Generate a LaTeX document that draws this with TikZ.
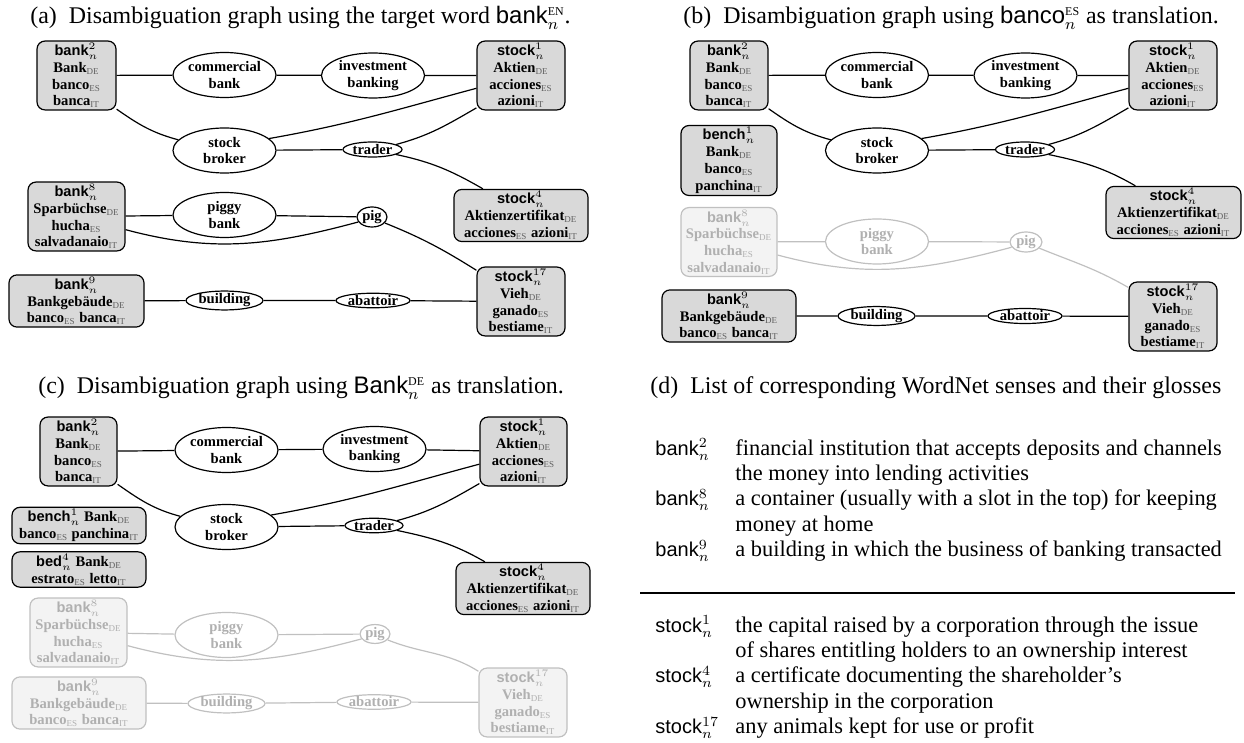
\documentclass[tikz,border=0pt]{standalone}
\usepackage{fontspec}
\setmainfont{Liberation Serif}
\setsansfont{Liberation Sans}
\usetikzlibrary{shapes.geometric,positioning}
\definecolor{boxgray}{RGB}{217,217,217}
\definecolor{palefill}{RGB}{243,243,243}
\definecolor{paleline}{RGB}{192,192,192}
\definecolor{paletext}{RGB}{176,176,176}
\definecolor{tagtext}{RGB}{95,95,95}
\colorlet{tagcol}{tagtext}
\newcommand{\wsense}[2]{\textsf{\textbf{#1}}$^{#2}_{n}$}
\newcommand{\glosense}[2]{\smash{\fontsize{10}{12}\selectfont\textsf{#1}$^{#2}_{n}$}}
\newcommand{\lang}[1]{\textsubscript{\normalfont\fontsize{4.5}{4.5}\selectfont\color{tagcol}#1}}
\tikzset{
  sense/.style={draw, fill=boxgray, rounded corners=4pt, line width=0.6pt, align=center,
    inner xsep=2pt, inner ysep=1pt, font=\fontsize{7.3}{8.4}\selectfont\bfseries},
  hub/.style={ellipse, draw, fill=white, line width=0.6pt, inner sep=0pt, align=center,
    font=\fontsize{7.3}{8.2}\selectfont\bfseries},
  pair/.style={hub, minimum width=51.5pt, minimum height=22.5pt},
  faded/.style={draw=paleline, text=paletext, execute at begin node=\colorlet{tagcol}{paletext}},
  fadedbox/.style={faded, fill=palefill},
  wire/.style={line width=0.6pt},
  palewire/.style={wire, draw=paleline},
  subcap/.style={anchor=base west, inner sep=0pt, font=\fontsize{11.95}{14}\selectfont},
  gloss/.style={anchor=north west, inner sep=0pt, font=\fontsize{11.2}{12.65}\selectfont},
}

\begin{document}
\begin{tikzpicture}[x=0.5pt, y=-0.5pt]
\useasboundingbox (0,0) rectangle (1244,743);

% (a) target word
\node[subcap] (a-cap) at (30,24) {(a)\hspace{6pt}Disambiguation graph using the target word \textsf{bank}$^{\scriptscriptstyle\mathrm{EN}}_n$.};
\node[sense, minimum width=39.5pt] (a-bank2) at (76.5,75.5) {\wsense{bank}{2}\\Bank\lang{DE}\\banco\lang{ES}\\banca\lang{IT}};
\node[pair] (a-commercial) at (224.5,75) {commercial\\bank};
\node[pair] (a-invest) at (373,75.5) {investment\\banking};
\node[sense, minimum width=44pt] (a-stock1) at (521,75.5) {\wsense{stock}{1}\\Aktien\lang{DE}\\acciones\lang{ES}\\azioni\lang{IT}};
\node[pair] (a-broker) at (224.5,150.5) {stock\\broker};
\node[hub, minimum width=29.5pt, minimum height=7.5pt] (a-trader) at (372.5,149.5) {trader};
\node[sense, minimum width=67pt] (a-stock4) at (521,215.5) {\wsense{stock}{4}\\Aktienzertifikat\lang{DE}\\acciones\lang{ES}\ azioni\lang{IT}};
\node[sense, minimum width=48.5pt] (a-bank8) at (76.5,216.5) {\wsense{bank}{8}\\Sparbüchse\lang{DE}\\hucha\lang{ES}\\salvadanaio\lang{IT}};
\node[pair] (a-piggy) at (224.5,215) {piggy\\bank};
\node[hub, minimum width=15pt, minimum height=10pt] (a-pig) at (372,217) {pig};
\node[sense, minimum width=67.5pt] (a-bank9) at (76.5,301) {\wsense{bank}{9}\\Bankgebäude\lang{DE}\\banco\lang{ES}\ banca\lang{IT}};
\node[hub, minimum width=38.5pt, minimum height=8pt] (a-building) at (224.5,300.5) {building};
\node[hub, minimum width=37pt, minimum height=7pt] (a-abattoir) at (373,300.5) {abattoir};
\node[sense, minimum width=44pt] (a-stock17) at (521,301.5) {\wsense{stock}{17}\\Vieh\lang{DE}\\ganado\lang{ES}\\bestiame\lang{IT}};
\draw[wire] (a-bank2) -- (a-commercial) -- (a-invest) -- (a-stock1);
\draw[wire] (a-bank2.-40) to[out=-35,in=165] (a-broker.167);
\draw[wire] (a-broker.15) to[out=10,in=195] (a-stock1.196);
\draw[wire] (a-broker) -- (a-trader);
\draw[wire] (a-trader.12) to[out=15,in=210] (a-stock1.216);
\draw[wire] (a-trader.-12) to[out=-12,in=150] (a-stock4.145);
\draw[wire] (a-bank8) -- (a-piggy) -- (a-pig);
\draw[wire] (a-bank8.-15) to[out=-15,in=195] (a-pig.200);
\draw[wire] (a-pig.-25) to[out=-22,in=148] (a-stock17.145);
\draw[wire] (a-bank9) -- (a-building) -- (a-abattoir) -- (a-stock17);

% (b) spanish translation
\node[subcap] (b-cap) at (683,24) {(b)\hspace{6pt}Disambiguation graph using \textsf{banco}$^{\scriptscriptstyle\mathrm{ES}}_n$ as translation.};
\node[sense, minimum width=39pt] (b-bank2) at (729,75.5) {\wsense{bank}{2}\\Bank\lang{DE}\\banco\lang{ES}\\banca\lang{IT}};
\node[pair] (b-commercial) at (877,75) {commercial\\bank};
\node[pair] (b-invest) at (1025.5,75.5) {investment\\banking};
\node[sense, minimum width=44pt] (b-stock1) at (1173,75.5) {\wsense{stock}{1}\\Aktien\lang{DE}\\acciones\lang{ES}\\azioni\lang{IT}};
\node[sense, minimum width=48pt] (b-bench1) at (729,160.5) {\wsense{bench}{1}\\Bank\lang{DE}\\banco\lang{ES}\\panchina\lang{IT}};
\node[pair] (b-broker) at (877,150.5) {stock\\broker};
\node[hub, minimum width=29.5pt, minimum height=7.5pt] (b-trader) at (1025,149.5) {trader};
\node[sense, minimum width=67.5pt] (b-stock4) at (1173.5,212.5) {\wsense{stock}{4}\\Aktienzertifikat\lang{DE}\\acciones\lang{ES}\ azioni\lang{IT}};
\node[sense, fadedbox, minimum width=48pt] (b-bank8) at (729,242) {\wsense{bank}{8}\\Sparbüchse\lang{DE}\\hucha\lang{ES}\\salvadanaio\lang{IT}};
\node[pair, faded] (b-piggy) at (877,241.5) {piggy\\bank};
\node[hub, faded, minimum width=16pt, minimum height=10pt] (b-pig) at (1026,242) {pig};
\node[sense, minimum width=67pt] (b-bank9) at (729,316) {\wsense{bank}{9}\\Bankgebäude\lang{DE}\\banco\lang{ES}\ banca\lang{IT}};
\node[hub, minimum width=38.5pt, minimum height=8pt] (b-building) at (876.5,316) {building};
\node[hub, minimum width=37pt, minimum height=7.5pt] (b-abattoir) at (1025,316) {abattoir};
\node[sense, minimum width=44pt] (b-stock17) at (1173,316.5) {\wsense{stock}{17}\\Vieh\lang{DE}\\ganado\lang{ES}\\bestiame\lang{IT}};
\draw[wire] (b-bank2) -- (b-commercial) -- (b-invest) -- (b-stock1);
\draw[wire] (b-bank2.-40) to[out=-35,in=165] (b-broker.167);
\draw[wire] (b-broker.15) to[out=10,in=195] (b-stock1.196);
\draw[wire] (b-broker) -- (b-trader);
\draw[wire] (b-trader.12) to[out=15,in=210] (b-stock1.216);
\draw[wire] (b-trader.-12) to[out=-12,in=150] (b-stock4.145);
\draw[palewire] (b-bank8) -- (b-piggy) -- (b-pig);
\draw[palewire] (b-bank8.-15) to[out=-15,in=195] (b-pig.200);
\draw[palewire] (b-pig.-25) to[out=-22,in=150] (b-stock17.147);
\draw[wire] (b-bank9) -- (b-building) -- (b-abattoir) -- (b-stock17);

% (c) german translation
\node[subcap] (c-cap) at (38,394) {(c)\hspace{6pt}Disambiguation graph using \textsf{Bank}$^{\scriptscriptstyle\mathrm{DE}}_n$ as translation.};
\node[sense, minimum width=38.5pt] (c-bank2) at (78.5,451.5) {\wsense{bank}{2}\\Bank\lang{DE}\\banco\lang{ES}\\banca\lang{IT}};
\node[pair] (c-commercial) at (226.5,450) {commercial\\bank};
\node[pair] (c-invest) at (374.5,449) {investment\\banking};
\node[sense, minimum width=43.5pt] (c-stock1) at (523.5,451.5) {\wsense{stock}{1}\\Aktien\lang{DE}\\acciones\lang{ES}\\azioni\lang{IT}};
\node[sense, minimum width=67pt] (c-bench1) at (79,525.5) {\wsense{bench}{1} Bank\lang{DE}\\banco\lang{ES}\ panchina\lang{IT}};
\node[pair] (c-broker) at (226.5,527) {stock\\broker};
\node[hub, minimum width=29pt, minimum height=7pt] (c-trader) at (374,525.5) {trader};
\node[sense, minimum width=67pt] (c-bed4) at (79,569.5) {\wsense{bed}{4} Bank\lang{DE}\\estrato\lang{ES}\ letto\lang{IT}};
\node[sense, minimum width=67pt] (c-stock4) at (523,588.5) {\wsense{stock}{4}\\Aktienzertifikat\lang{DE}\\acciones\lang{ES}\ azioni\lang{IT}};
\node[sense, fadedbox, minimum width=48.5pt] (c-bank8) at (78.5,632.5) {\wsense{bank}{8}\\Sparbüchse\lang{DE}\\hucha\lang{ES}\\salvadanaio\lang{IT}};
\node[pair, faded] (c-piggy) at (226.5,635) {piggy\\bank};
\node[hub, faded, minimum width=15pt, minimum height=9pt] (c-pig) at (375,634) {pig};
\node[sense, fadedbox, minimum width=67pt] (c-bank9) at (79,703) {\wsense{bank}{9}\\Bankgebäude\lang{DE}\\banco\lang{ES}\ banca\lang{IT}};
\node[hub, faded, minimum width=38.5pt, minimum height=8pt] (c-building) at (226.5,703.5) {building};
\node[hub, faded, minimum width=37pt, minimum height=7pt] (c-abattoir) at (374,702) {abattoir};
\node[sense, fadedbox, minimum width=44pt] (c-stock17) at (523,702.5) {\wsense{stock}{17}\\Vieh\lang{DE}\\ganado\lang{ES}\\bestiame\lang{IT}};
\draw[wire] (c-bank2) -- (c-commercial) -- (c-invest) -- (c-stock1);
\draw[wire] (c-bank2.-40) to[out=-35,in=165] (c-broker.167);
\draw[wire] (c-broker.15) to[out=10,in=195] (c-stock1.196);
\draw[wire] (c-broker) -- (c-trader);
\draw[wire] (c-trader.12) to[out=15,in=210] (c-stock1.216);
\draw[wire] (c-trader.-12) to[out=-12,in=150] (c-stock4.145);
\draw[palewire] (c-bank8) -- (c-piggy) -- (c-pig);
\draw[palewire] (c-bank8.-15) to[out=-15,in=195] (c-pig.200);
\draw[palewire] (c-pig.-25) to[out=-22,in=148] (c-stock17.145);
\draw[palewire] (c-bank9) -- (c-building) -- (c-abattoir) -- (c-stock17);

% (d) glosses
\node[subcap] (d-cap) at (650,394) {(d)\hspace{6pt}List of corresponding WordNet senses and their glosses};
\node[gloss] (d-bank) at (655,437) {\begin{tabular}{@{}p{40pt}@{}l@{}}
\glosense{bank}{2} & financial institution that accepts deposits and channels\\
 & the money into lending activities\\
\glosense{bank}{8} & a container (usually with a slot in the top) for keeping\\
 & money at home\\
\glosense{bank}{9} & a building in which the business of banking transacted
\end{tabular}};
\coordinate (d-rule-l) at (640,593);
\coordinate (d-rule-r) at (1235,593);
\draw[wire] (d-rule-l) -- (d-rule-r);
\node[gloss] (d-stock) at (655,614) {\begin{tabular}{@{}p{40pt}@{}l@{}}
\glosense{stock}{1} & the capital raised by a corporation through the issue\\
 & of shares entitling holders to an ownership interest\\
\glosense{stock}{4} & a certificate documenting the shareholder's\\
 & ownership in the corporation\\
\glosense{stock}{17} & any animals kept for use or profit
\end{tabular}};
\end{tikzpicture}
\end{document}
